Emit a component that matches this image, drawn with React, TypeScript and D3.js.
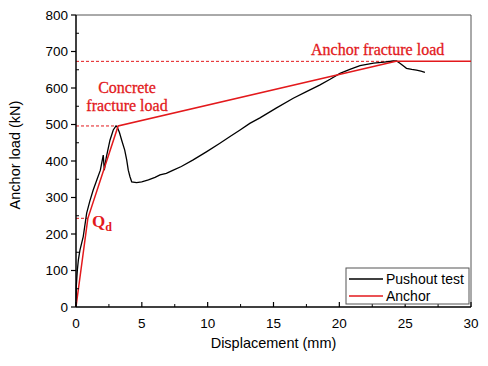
import * as d3 from 'd3'

const MARGIN = { top: 15, right: 17, bottom: 59, left: 76 }
const WIDTH = 488
const HEIGHT = 366

// pushout test curve
const pushX = [0, 0.02, 0.1, 0.18, 0.3, 0.55, 0.81, 1.05, 1.3, 1.6, 1.85, 2.07, 2.15, 2.3, 2.58, 2.83, 3.04, 3.12, 3.3, 3.47, 3.7, 3.85, 3.97, 4.1, 4.23, 4.6, 4.99, 5.5, 6.0, 6.38, 6.86, 7.39, 8.0, 8.9, 9.9, 10.9, 11.7, 12.46, 13.2, 13.97, 15.2, 16.5, 17.5, 18.5, 19.3, 20.05, 20.8, 21.57, 22.6, 23.4, 24.1, 24.35, 24.6, 24.85, 25.1, 25.5, 25.86, 26.2, 26.5]
const pushY = [0, 55, 100, 129, 156, 193, 257, 290, 320, 350, 375, 416, 375, 410, 457, 485, 496, 494, 478, 457, 430, 403, 375, 357, 343, 341, 343, 348, 355, 362, 366, 375, 385, 403, 425, 448, 467, 485, 503, 518, 545, 572, 590, 608, 624, 640, 651, 661, 668, 671, 674, 674, 668, 661, 654, 651, 649, 646, 643]

// anchor model (multi-linear)
const anchorX = [0, 0.9, 3.2, 24.3, 30]
const anchorY = [0, 243, 496, 673, 673]

const xTicks = [0, 5, 10, 15, 20, 25, 30]
const yTicks = [0, 100, 200, 300, 400, 500, 600, 700, 800]

const RED = '#e3191c'
const SANS = 'Liberation Sans, Arial, sans-serif'
const SERIF = 'Liberation Serif, DejaVu Serif, serif'

export default function App() {
  const w = WIDTH - MARGIN.left - MARGIN.right
  const h = HEIGHT - MARGIN.top - MARGIN.bottom
  const x = d3.scaleLinear().domain([0, 30]).range([0, w])
  const y = d3.scaleLinear().domain([0, 800]).range([h, 0])

  const line = d3
    .line<[number, number]>()
    .x((d) => x(d[0]))
    .y((d) => y(d[1]))

  const pushPts = pushX.map((v, i) => [v, pushY[i]] as [number, number])
  const anchorPts = anchorX.map((v, i) => [v, anchorY[i]] as [number, number])

  const xMinor = d3.range(2.5, 30, 5)
  const yMinor = d3.range(50, 800, 100)

  const note = { fontFamily: SERIF, fontSize: 16, fill: RED, stroke: RED, strokeWidth: 0.3 }

  return (
    <svg
      width={WIDTH}
      height={HEIGHT}
      style={{ position: 'absolute', left: 0, top: 0, background: 'white' }}
    >
      <g transform={`translate(${MARGIN.left},${MARGIN.top})`}>
        {/* frame */}
        <line x1={0} x2={w} y1={0} y2={0} stroke="#555" strokeWidth={1} />
        <line x1={w} x2={w} y1={0} y2={h} stroke="#555" strokeWidth={1} />

        {/* dashed guides */}
        <line x1={0} x2={x(anchorX[3])} y1={y(673)} y2={y(673)} stroke={RED} strokeWidth={1} strokeDasharray="3,2" />
        <line x1={0} x2={x(3.05)} y1={y(496)} y2={y(496)} stroke={RED} strokeWidth={1} strokeDasharray="3,2" />
        <line x1={0} x2={x(0.9)} y1={y(243)} y2={y(243)} stroke={RED} strokeWidth={1} strokeDasharray="3,2" />

        {/* curves */}
        <path d={line(pushPts) ?? ''} fill="none" stroke="black" strokeWidth={1.3} />
        <path d={line(anchorPts) ?? ''} fill="none" stroke={RED} strokeWidth={1.5} />

        {/* x axis */}
        <line x1={0} x2={w} y1={h} y2={h} stroke="black" strokeWidth={1.5} />
        {xTicks.map((t) => (
          <g key={t} transform={`translate(${x(t)},${h})`}>
            <line y1={0} y2={-5} stroke="black" strokeWidth={1.2} />
            <text y={21} textAnchor="middle" fontFamily={SANS} fontSize={13.5}>
              {t}
            </text>
          </g>
        ))}
        {xMinor.map((t) => (
          <line key={t} x1={x(t)} x2={x(t)} y1={h} y2={h - 3} stroke="black" strokeWidth={1} />
        ))}
        <text x={w / 2} y={h + 41} textAnchor="middle" fontFamily={SANS} fontSize={14.5}>
          Displacement (mm)
        </text>

        {/* y axis */}
        <line x1={0} x2={0} y1={0} y2={h} stroke="black" strokeWidth={1.5} />
        {yTicks.map((t) => (
          <g key={t} transform={`translate(0,${y(t)})`}>
            <line x1={0} x2={-5} stroke="black" strokeWidth={1.2} />
            <text x={-8} dy="0.35em" textAnchor="end" fontFamily={SANS} fontSize={13.5}>
              {t}
            </text>
          </g>
        ))}
        {yMinor.map((t) => (
          <line key={t} x1={0} x2={3} y1={y(t)} y2={y(t)} stroke="black" strokeWidth={1} />
        ))}
        <text
          transform={`translate(${-56},${h / 2 - 6}) rotate(-90)`}
          textAnchor="middle"
          fontFamily={SANS}
          fontSize={14.5}
        >
          Anchor load (kN)
        </text>

        {/* annotations */}
        <text x={235} y={40} {...note}>
          Anchor fracture load
        </text>
        <text x={51} y={78} textAnchor="middle" {...note}>
          Concrete
        </text>
        <text x={51} y={96} textAnchor="middle" {...note}>
          fracture load
        </text>
        <text x={16} y={212} fontFamily={SERIF} fontSize={17} fontWeight="bold" fill={RED}>
          Q
          <tspan fontSize={12} dy={4}>
            d
          </tspan>
        </text>

        {/* legend */}
        <g transform={`translate(${270},${253})`}>
          <rect width={123} height={36} fill="white" stroke="#555" strokeWidth={1} />
          <line x1={3} x2={37} y1={11} y2={11} stroke="black" strokeWidth={1.3} />
          <text x={40} y={16} fontFamily={SANS} fontSize={14}>
            Pushout test
          </text>
          <line x1={3} x2={37} y1={28} y2={28} stroke={RED} strokeWidth={1.5} />
          <text x={40} y={33} fontFamily={SANS} fontSize={14}>
            Anchor
          </text>
        </g>
      </g>
    </svg>
  )
}
